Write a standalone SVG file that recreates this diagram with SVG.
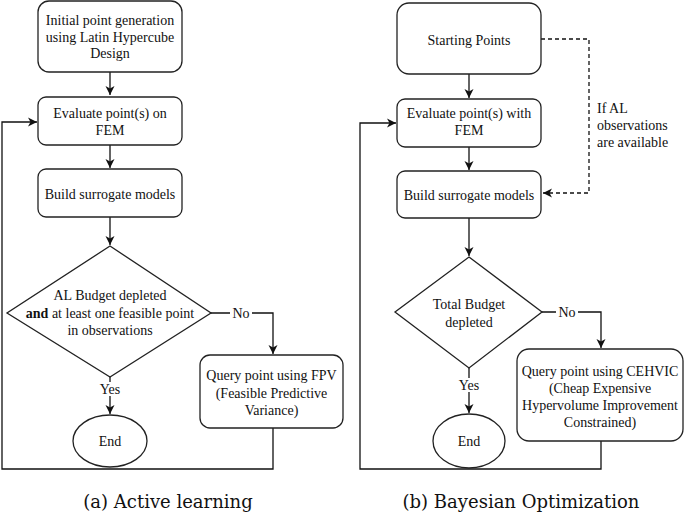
<svg xmlns="http://www.w3.org/2000/svg" width="685" height="515" viewBox="0 0 685 515">
<defs>
<marker id="ah" markerWidth="10" markerHeight="10" refX="9" refY="5" orient="auto" markerUnits="userSpaceOnUse">
<path d="M0,0.5 L9,5 L0,9.5 L2.5,5 Z" fill="#111"/>
</marker>
</defs>
<style>
.n{fill:#fff;stroke:#222;stroke-width:1.3}
.t{font-family:"Liberation Serif","Times New Roman",serif;font-size:14px;fill:#111;text-anchor:middle}
.l{font-family:"Liberation Serif","Times New Roman",serif;font-size:14px;fill:#111}
.c{fill:none;stroke:#111;stroke-width:1.3}
.d{fill:none;stroke:#111;stroke-width:1.3;stroke-dasharray:4,3}
.cap{font-family:"DejaVu Serif","Liberation Serif",serif;font-size:18px;fill:#111;text-anchor:middle}
.bg{fill:#fff}
</style>
<rect width="685" height="515" fill="#fff"/>
<g id="connectors">
<path class="c" d="M110,72 V95" marker-end="url(#ah)"/>
<path class="c" d="M110,145 V168" marker-end="url(#ah)"/>
<path class="c" d="M110,217 V245" marker-end="url(#ah)"/>
<path class="c" d="M211,313 H273 V354" marker-end="url(#ah)"/>
<path class="c" d="M110,377 V414" marker-end="url(#ah)"/>
<path class="c" d="M273,428 V469 H2 V122 H37" marker-end="url(#ah)"/>
<path class="c" d="M469,74 V98" marker-end="url(#ah)"/>
<path class="c" d="M469,147 V170" marker-end="url(#ah)"/>
<path class="c" d="M469,218 V256" marker-end="url(#ah)"/>
<path class="c" d="M542,312 H601 V348" marker-end="url(#ah)"/>
<path class="c" d="M469,368 V413" marker-end="url(#ah)"/>
<path class="c" d="M601,441 V469 H360 V123 H396" marker-end="url(#ah)"/>
<path class="d" d="M541,39 H589 V193 H543" marker-end="url(#ah)"/>
<rect class="bg" x="230" y="306" width="22" height="14"/>
<text class="t" x="241" y="318">No</text>
<rect class="bg" x="98" y="382" width="24" height="14"/>
<text class="t" x="110" y="394">Yes</text>
<rect class="bg" x="556" y="305" width="22" height="14"/>
<text class="t" x="567" y="317">No</text>
<rect class="bg" x="457" y="378" width="24" height="14"/>
<text class="t" x="469" y="390">Yes</text>
<text class="l" x="597" y="113">If AL</text>
<text class="l" x="597" y="130">observations</text>
<text class="l" x="597" y="147">are available</text>
</g>
<g id="a_init">
<rect class="n" x="38" y="1" width="144" height="71" rx="11"/>
<text class="t" x="110" y="25">Initial point generation</text>
<text class="t" x="110" y="42">using Latin Hypercube</text>
<text class="t" x="110" y="58">Design</text>
</g>
<g id="a_eval">
<rect class="n" x="38" y="97" width="144" height="48" rx="8"/>
<text class="t" x="110" y="118">Evaluate point(s) on</text>
<text class="t" x="110" y="135">FEM</text>
</g>
<g id="a_build">
<rect class="n" x="38" y="169" width="144" height="48" rx="8"/>
<text class="t" x="110" y="199">Build surrogate models</text>
</g>
<g id="a_dec">
<polygon class="n" points="110,246 211,313 110,377 7,313"/>
<text class="t" x="110" y="300">AL Budget depleted</text>
<text class="t" x="110" y="318"><tspan font-weight="bold">and</tspan> at least one feasible point</text>
<text class="t" x="110" y="335">in observations</text>
</g>
<g id="a_query">
<rect class="n" x="200" y="355" width="143" height="73" rx="10"/>
<text class="t" x="271.5" y="380">Query point using FPV</text>
<text class="t" x="271.5" y="398">(Feasible Predictive</text>
<text class="t" x="271.5" y="415">Variance)</text>
</g>
<g id="a_end">
<ellipse class="n" cx="110" cy="441" rx="37" ry="26"/>
<text class="t" x="110" y="446">End</text>
</g>
<g id="b_start">
<rect class="n" x="397" y="3" width="144" height="71" rx="12"/>
<text class="t" x="469" y="45">Starting Points</text>
</g>
<g id="b_eval">
<rect class="n" x="397" y="99" width="144" height="48" rx="8"/>
<text class="t" x="469" y="118">Evaluate point(s) with</text>
<text class="t" x="469" y="135">FEM</text>
</g>
<g id="b_build">
<rect class="n" x="397" y="171" width="144" height="47" rx="8"/>
<text class="t" x="469" y="200">Build surrogate models</text>
</g>
<g id="b_dec">
<polygon class="n" points="469,257 542,312 469,368 395,312"/>
<text class="t" x="469" y="309">Total Budget</text>
<text class="t" x="469" y="327">depleted</text>
</g>
<g id="b_query">
<rect class="n" x="517" y="349" width="166" height="92" rx="12"/>
<text class="t" x="600" y="376">Query point using CEHVIC</text>
<text class="t" x="600" y="393">(Cheap Expensive</text>
<text class="t" x="600" y="410">Hypervolume Improvement</text>
<text class="t" x="600" y="427">Constrained)</text>
</g>
<g id="b_end">
<ellipse class="n" cx="469" cy="441" rx="36" ry="27"/>
<text class="t" x="469" y="446">End</text>
</g>
<text class="cap" x="168" y="508">(a) Active learning</text>
<text class="cap" x="521" y="508">(b) Bayesian Optimization</text>
</svg>
